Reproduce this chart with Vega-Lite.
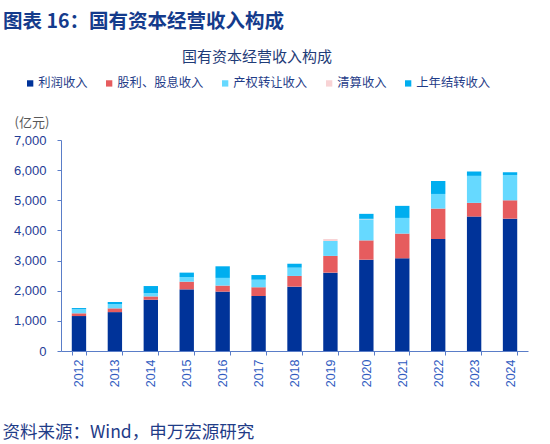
{
  "$schema": "https://vega.github.io/schema/vega-lite/v6.json",
  "autosize": "none",
  "width": 467,
  "height": 211,
  "padding": {"left": 61, "top": 140, "right": 22, "bottom": 93},
  "background": "#ffffff",
  "title": {
    "text": "图表 16：国有资本经营收入构成",
    "anchor": "start",
    "frame": "group",
    "dx": -58,
    "dy": -8,
    "offset": 10,
    "font": "Noto Sans CJK SC",
    "fontSize": 19.5,
    "fontWeight": "bold",
    "color": "#143b8c"
  },
  "config": {
    "view": {"stroke": null},
    "font": "Noto Sans CJK SC"
  },
  "data": {
    "values": [
      {"year": "2012", "item": "利润收入", "value": 1160},
      {"year": "2012", "item": "股利、股息收入", "value": 90},
      {"year": "2012", "item": "产权转让收入", "value": 135},
      {"year": "2012", "item": "清算收入", "value": 0},
      {"year": "2012", "item": "上年结转收入", "value": 40},
      {"year": "2013", "item": "利润收入", "value": 1290},
      {"year": "2013", "item": "股利、股息收入", "value": 125},
      {"year": "2013", "item": "产权转让收入", "value": 145},
      {"year": "2013", "item": "清算收入", "value": 0},
      {"year": "2013", "item": "上年结转收入", "value": 65},
      {"year": "2014", "item": "利润收入", "value": 1700},
      {"year": "2014", "item": "股利、股息收入", "value": 110},
      {"year": "2014", "item": "产权转让收入", "value": 110},
      {"year": "2014", "item": "清算收入", "value": 0},
      {"year": "2014", "item": "上年结转收入", "value": 235},
      {"year": "2015", "item": "利润收入", "value": 2045},
      {"year": "2015", "item": "股利、股息收入", "value": 255},
      {"year": "2015", "item": "产权转让收入", "value": 155},
      {"year": "2015", "item": "清算收入", "value": 0},
      {"year": "2015", "item": "上年结转收入", "value": 145},
      {"year": "2016", "item": "利润收入", "value": 1970},
      {"year": "2016", "item": "股利、股息收入", "value": 200},
      {"year": "2016", "item": "产权转让收入", "value": 255},
      {"year": "2016", "item": "清算收入", "value": 0},
      {"year": "2016", "item": "上年结转收入", "value": 385},
      {"year": "2017", "item": "利润收入", "value": 1825},
      {"year": "2017", "item": "股利、股息收入", "value": 290},
      {"year": "2017", "item": "产权转让收入", "value": 250},
      {"year": "2017", "item": "清算收入", "value": 0},
      {"year": "2017", "item": "上年结转收入", "value": 155},
      {"year": "2018", "item": "利润收入", "value": 2135},
      {"year": "2018", "item": "股利、股息收入", "value": 355},
      {"year": "2018", "item": "产权转让收入", "value": 275},
      {"year": "2018", "item": "清算收入", "value": 0},
      {"year": "2018", "item": "上年结转收入", "value": 130},
      {"year": "2019", "item": "利润收入", "value": 2600},
      {"year": "2019", "item": "股利、股息收入", "value": 555},
      {"year": "2019", "item": "产权转让收入", "value": 495},
      {"year": "2019", "item": "清算收入", "value": 65},
      {"year": "2019", "item": "上年结转收入", "value": 0},
      {"year": "2020", "item": "利润收入", "value": 3030},
      {"year": "2020", "item": "股利、股息收入", "value": 640},
      {"year": "2020", "item": "产权转让收入", "value": 700},
      {"year": "2020", "item": "清算收入", "value": 15},
      {"year": "2020", "item": "上年结转收入", "value": 165},
      {"year": "2021", "item": "利润收入", "value": 3075},
      {"year": "2021", "item": "股利、股息收入", "value": 820},
      {"year": "2021", "item": "产权转让收入", "value": 520},
      {"year": "2021", "item": "清算收入", "value": 0},
      {"year": "2021", "item": "上年结转收入", "value": 400},
      {"year": "2022", "item": "利润收入", "value": 3715},
      {"year": "2022", "item": "股利、股息收入", "value": 1010},
      {"year": "2022", "item": "产权转让收入", "value": 485},
      {"year": "2022", "item": "清算收入", "value": 0},
      {"year": "2022", "item": "上年结转收入", "value": 430},
      {"year": "2023", "item": "利润收入", "value": 4460},
      {"year": "2023", "item": "股利、股息收入", "value": 455},
      {"year": "2023", "item": "产权转让收入", "value": 895},
      {"year": "2023", "item": "清算收入", "value": 0},
      {"year": "2023", "item": "上年结转收入", "value": 145},
      {"year": "2024", "item": "利润收入", "value": 4390},
      {"year": "2024", "item": "股利、股息收入", "value": 610},
      {"year": "2024", "item": "产权转让收入", "value": 840},
      {"year": "2024", "item": "清算收入", "value": 0},
      {"year": "2024", "item": "上年结转收入", "value": 90}
    ]
  },
  "transform": [
    {"calculate": "indexof(['利润收入', '股利、股息收入', '产权转让收入', '清算收入', '上年结转收入'], datum.item)", "as": "stackOrder"}
  ],
  "mark": {"type": "bar"},
  "encoding": {
    "x": {
      "field": "year",
      "type": "ordinal",
      "scale": {"paddingInner": 0.6, "paddingOuter": 0.3},
      "axis": {
        "title": "资料来源：Wind，申万宏源研究",
        "titleX": -59,
        "titleY": 81,
        "titleAlign": "left",
        "titleAnchor": "start",
        "titleBaseline": "middle",
        "titleFont": "Noto Sans CJK SC",
        "titleFontSize": 17.5,
        "titleFontWeight": "normal",
        "titleColor": "#1f3c88",
        "labelAngle": -90,
        "labelFont": "Liberation Sans",
        "labelFontSize": 12.5,
        "labelColor": "#2f5bbf",
        "labelPadding": 4,
        "tickBand": "extent",
        "tickSize": 4,
        "tickColor": "#5a7dc8",
        "domainColor": "#5a7dc8"
      }
    },
    "y": {
      "field": "value",
      "type": "quantitative",
      "stack": "zero",
      "scale": {"domain": [0, 7000], "nice": false},
      "axis": {
        "values": [0, 1000, 2000, 3000, 4000, 5000, 6000, 7000],
        "format": ",d",
        "grid": false,
        "title": "(亿元)",
        "titleAngle": 0,
        "titleX": -47,
        "titleY": -18,
        "titleAlign": "left",
        "titleBaseline": "middle",
        "titleFont": "Noto Sans CJK SC",
        "titleFontSize": 13,
        "titleFontWeight": "normal",
        "titleColor": "#595959",
        "labelFont": "Liberation Sans",
        "labelFontSize": 13,
        "labelColor": "#1f3c96",
        "labelPadding": 11,
        "tickSize": 4,
        "tickColor": "#5a7dc8",
        "domainColor": "#5a7dc8"
      }
    },
    "color": {
      "field": "item",
      "type": "nominal",
      "sort": ["利润收入", "股利、股息收入", "产权转让收入", "清算收入", "上年结转收入"],
      "scale": {
        "domain": ["利润收入", "股利、股息收入", "产权转让收入", "清算收入", "上年结转收入"],
        "range": ["#003399", "#e65c5e", "#66d9ff", "#f8d3d5", "#00aeef"]
      },
      "legend": {
        "title": "国有资本经营收入构成",
        "orient": "none",
        "legendX": -37,
        "legendY": -90,
        "direction": "horizontal",
        "columns": 5,
        "columnPadding": 15,
        "titleAnchor": "middle",
        "titleFont": "Noto Sans CJK SC",
        "titleFontSize": 15,
        "titleFontWeight": "normal",
        "titleColor": "#1f3c78",
        "titlePadding": 12,
        "labelFont": "Noto Sans CJK SC",
        "labelFontSize": 12.3,
        "labelColor": "#1f3c88",
        "labelOffset": 2,
        "symbolType": "square",
        "symbolSize": 40,
        "symbolStrokeWidth": 0
      }
    },
    "order": {"field": "stackOrder", "type": "quantitative", "sort": "ascending"}
  }
}
